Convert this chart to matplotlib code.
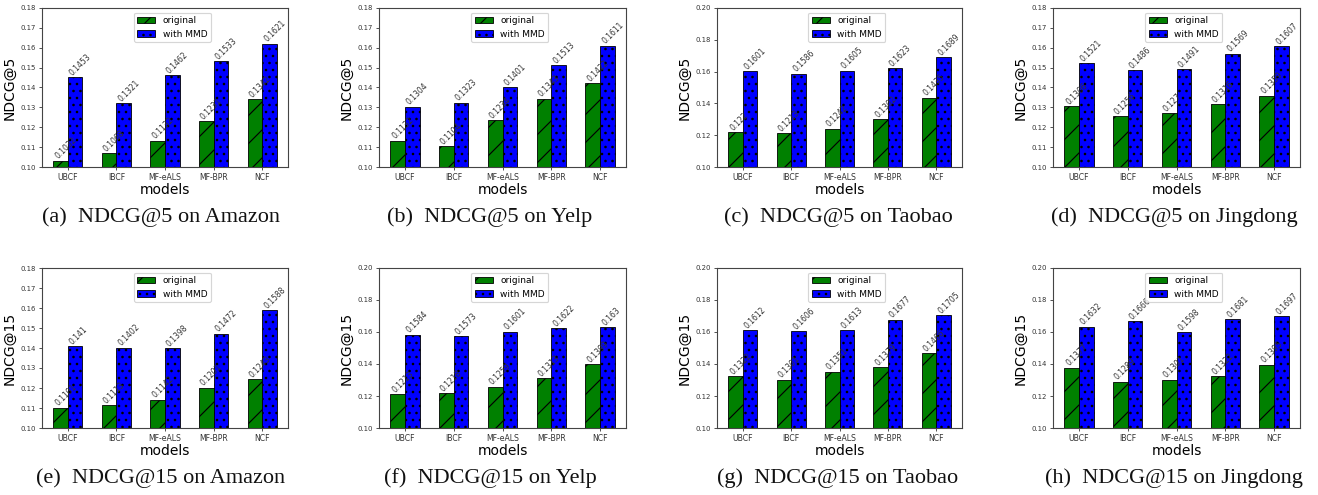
import matplotlib
matplotlib.use("Agg")
import matplotlib.pyplot as plt
import numpy as np

models = ["UBCF", "IBCF", "MF-eALS", "MF-BPR", "NCF"]

amazon5_orig = [0.1032, 0.1068, 0.1132, 0.1231, 0.1342]
amazon5_mmd = [0.1453, 0.1321, 0.1462, 0.1533, 0.1621]
yelp5_orig = [0.1132, 0.1104, 0.1234, 0.1343, 0.1422]
yelp5_mmd = [0.1304, 0.1323, 0.1401, 0.1513, 0.1611]
taobao5_orig = [0.122, 0.1213, 0.1242, 0.1302, 0.1435]
taobao5_mmd = [0.1601, 0.1586, 0.1605, 0.1623, 0.1689]
jd5_orig = [0.1306, 0.1256, 0.127, 0.1316, 0.1359]
jd5_mmd = [0.1521, 0.1486, 0.1491, 0.1569, 0.1607]

amazon15_orig = [0.1101, 0.1113, 0.1142, 0.1201, 0.1243]
amazon15_mmd = [0.141, 0.1402, 0.1398, 0.1472, 0.1588]
yelp15_orig = [0.1213, 0.1218, 0.1259, 0.1313, 0.1399]
yelp15_mmd = [0.1584, 0.1573, 0.1601, 0.1622, 0.163]
taobao15_orig = [0.1322, 0.1301, 0.1351, 0.1379, 0.1466]
taobao15_mmd = [0.1612, 0.1606, 0.1613, 0.1677, 0.1705]
jd15_orig = [0.1377, 0.1289, 0.1301, 0.1322, 0.1395]
jd15_mmd = [0.1632, 0.1666, 0.1598, 0.1681, 0.1697]

ylabels = ["NDCG@5"] * 4 + ["NDCG@15"] * 4
captions = ["(a)  NDCG@5 on Amazon", "(b)  NDCG@5 on Yelp", "(c)  NDCG@5 on Taobao",
            "(d)  NDCG@5 on Jingdong", "(e)  NDCG@15 on Amazon", "(f)  NDCG@15 on Yelp",
            "(g)  NDCG@15 on Taobao", "(h)  NDCG@15 on Jingdong"]
ytop = [0.18, 0.18, 0.20, 0.18, 0.18, 0.20, 0.20, 0.20]
ystep = [0.01, 0.01, 0.02, 0.01, 0.01, 0.02, 0.02, 0.02]

series = [(amazon5_orig, amazon5_mmd), (yelp5_orig, yelp5_mmd), (taobao5_orig, taobao5_mmd),
          (jd5_orig, jd5_mmd), (amazon15_orig, amazon15_mmd), (yelp15_orig, yelp15_mmd),
          (taobao15_orig, taobao15_mmd), (jd15_orig, jd15_mmd)]

DPI = 84
K = 100 / DPI  # font scale so sizes match pixel targets measured at 100 dpi
W, H = 1318, 495
fig = plt.figure(figsize=(W / DPI, H / DPI), dpi=DPI)

col_left = [42, 379, 717, 1053]
col_width = [246, 247, 245, 247]
row_top = [8, 268]
row_bottom = [167, 428]
cap_x = [161, 490, 838, 1174]
cap_y = [217, 478]

plt.rcParams['hatch.linewidth'] = 1.0

width = 0.3
x = np.arange(len(models))
for i, (orig, mmd) in enumerate(series):
    r, c = divmod(i, 4)
    ax = fig.add_axes([col_left[c] / W, 1 - row_bottom[r] / H,
                       col_width[c] / W, (row_bottom[r] - row_top[r]) / H])
    b1 = ax.bar(x - width / 2, orig, width, color='green', edgecolor='black',
                linewidth=0.6 * K, hatch='/', label='original')
    b2 = ax.bar(x + width / 2, mmd, width, color='blue', edgecolor='black',
                linewidth=0.6 * K, hatch='..', label='with MMD')
    for bars, vals in ((b1, orig), (b2, mmd)):
        for rect, v in zip(bars, vals):
            ax.text(rect.get_x(), rect.get_height(), str(v), rotation=45,
                    ha='left', va='bottom', fontsize=5.5 * K, color='#333333')
    ax.set_ylim(0.10, ytop[i])
    ticks = np.arange(0.10, ytop[i] + 1e-9, ystep[i])
    ax.set_yticks(ticks)
    ax.set_yticklabels([f"{t:.2f}" for t in ticks], fontsize=5 * K)
    ax.set_xticks(x)
    ax.set_xticklabels(models, fontsize=5.6 * K)
    ax.set_ylabel(ylabels[i], fontsize=10 * K, labelpad=3 * K)
    ax.set_xlabel("models", fontsize=10 * K, labelpad=1 * K)
    for s in ax.spines.values():
        s.set_color('#444444')
        s.set_linewidth(0.8 * K)
    ax.tick_params(colors='#333333', width=0.6 * K, length=2.2 * K, pad=2 * K)
    ax.legend(loc='upper center', bbox_to_anchor=(0.53, 1.0), fontsize=6.5 * K)
    fig.text(cap_x[c] / W, 1 - cap_y[r] / H, captions[i], ha='center', va='center',
             fontsize=16 * K, family='Liberation Serif', color='#111111')

fig.savefig("out.png", dpi=DPI)
